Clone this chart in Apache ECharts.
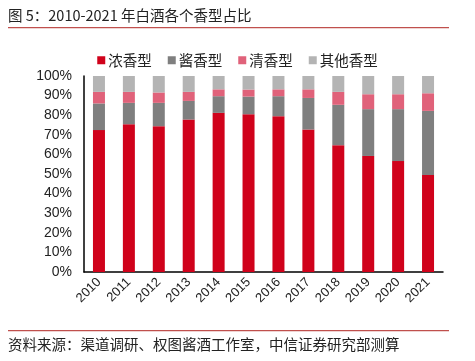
<!DOCTYPE html>
<html><head><meta charset="utf-8">
<script src="https://cdn.jsdelivr.net/npm/echarts@6/dist/echarts.min.js"></script>
<style>html,body{margin:0;padding:0;background:#fff;}#c{width:475px;height:361px;}</style>
</head><body><div id="c"></div>
<script>
const years = ['2010','2011','2012','2013','2014','2015','2016','2017','2018','2019','2020','2021'];
const nong = [72.4, 75.4, 74.4, 77.8, 81.2, 80.5, 79.5, 72.7, 64.7, 59.2, 56.6, 49.5];
const jiang = [13.6, 10.9, 11.9, 9.5, 8.5, 9.0, 10.2, 16.1, 20.6, 23.9, 26.5, 32.7];
const qing = [5.9, 5.6, 5.3, 4.6, 3.5, 3.6, 3.5, 4.4, 6.6, 7.6, 7.6, 9.0];
const other = [8.1, 8.1, 8.4, 8.1, 6.8, 6.9, 6.8, 6.8, 8.1, 9.3, 9.3, 8.8];
const names = ['浓香型','酱香型','清香型','其他香型'];
const colors = ['#D0021B','#7F7F7F','#E0627A','#B4B4B4'];
const FONT = '"Noto Sans CJK SC", "Noto Sans", sans-serif';
const chart = echarts.init(document.getElementById('c'));
const dataSets = [nong, jiang, qing, other];
chart.setOption({
  animation: false,
  textStyle: {fontFamily: FONT},
  graphic: [
    {type:'text', left: 8, top: 8, style:{text:'图 5：2010-2021 年白酒各个香型占比', font:'14.5px ' + FONT, fill:'#222'}},
    {type:'rect', shape:{x:8, y:27, width:441, height:1.2}, style:{fill:'#C0504D'}},
    {type:'rect', shape:{x:8, y:330, width:441, height:1.2}, style:{fill:'#C0504D'}},
    {type:'text', left: 8, top: 337, style:{text:'资料来源：渠道调研、权图酱酒工作室，中信证券研究部测算', font:'14.5px ' + FONT, fill:'#222'}}
  ],
  legend: {
    top: 48, left: 'center',
    itemWidth: 8, itemHeight: 8, itemGap: 16,
    icon: 'rect',
    textStyle: {fontSize: 14.5, color: '#222', fontFamily: FONT, padding:[0,0,0,-2]},
    data: names
  },
  grid: {left: 84, right: 32, top: 76, bottom: 89},
  xAxis: {
    type: 'category', data: years,
    axisLine: {lineStyle: {color: '#000', width: 1.5}},
    axisTick: {show: false},
    axisLabel: {rotate: 45, fontSize: 13, color: '#222', margin: 8, fontFamily: 'Liberation Sans, Arial, sans-serif'}
  },
  yAxis: {
    type: 'value', min: 0, max: 100, interval: 10,
    axisLine: {show: true, lineStyle: {color: '#000', width: 1.5}},
    axisTick: {show: false},
    splitLine: {show: false},
    axisLabel: {formatter: '{value}%', fontSize: 14, color: '#222', margin: 12, fontFamily: 'Liberation Sans, Arial, sans-serif'}
  },
  series: names.map((n, i) => ({
    name: n, type: 'bar', stack: 'total', barWidth: 12,
    itemStyle: {color: colors[i]},
    data: dataSets[i]
  }))
});
</script></body></html>
